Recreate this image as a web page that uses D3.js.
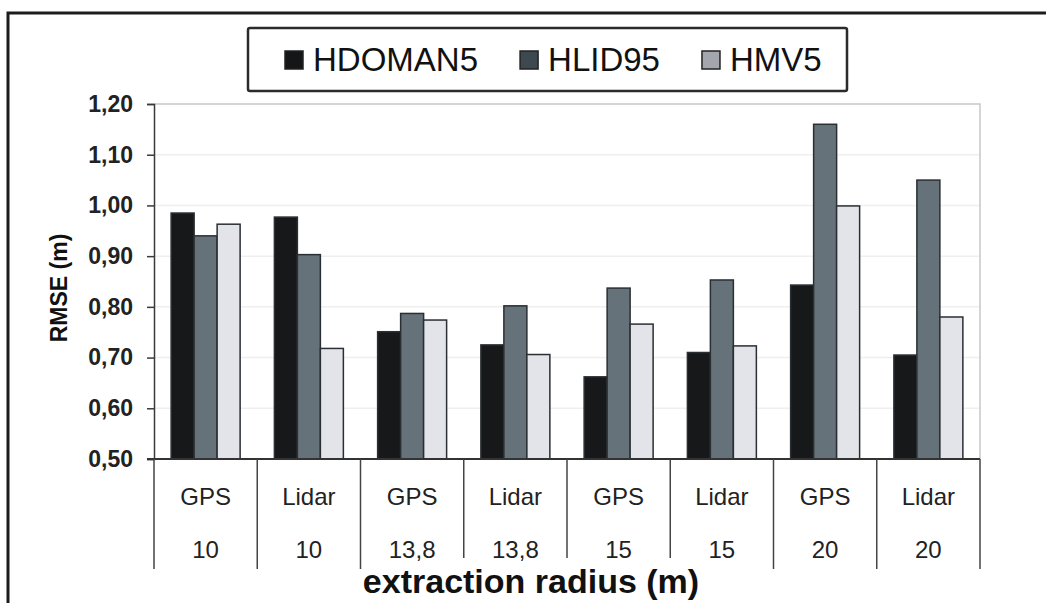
<!DOCTYPE html>
<html lang="en">
<head>
    <meta charset="UTF-8">
    <title>RMSE by extraction radius</title>
    <script src="https://d3js.org/d3.v7.min.js"></script>
    <style>
        body {
            margin: 0;
            background: #fff;
            font-family: "Liberation Sans", Arial, sans-serif;
        }
        .axis-y text {
            font-size: 23px;
            font-weight: bold;
            fill: #222;
        }
        .cat {
            font-size: 24px;
            fill: #222;
        }
        .title {
            font-weight: bold;
            fill: #111;
        }
        .legend-text {
            font-size: 33px;
            fill: #111;
        }
    </style>
</head>
<body>
    <svg width="1046" height="603"></svg>
    <script>
        // values
        var methods = ["GPS", "Lidar", "GPS", "Lidar", "GPS", "Lidar", "GPS", "Lidar"];
        var radii = ["10", "10", "13,8", "13,8", "15", "15", "20", "20"];
        var seriesNames = ["HDOMAN5", "HLID95", "HMV5"];
        var hdoman5 = [0.985, 0.977, 0.751, 0.725, 0.662, 0.710, 0.843, 0.705];
        var hlid95 = [0.940, 0.903, 0.787, 0.802, 0.837, 0.853, 1.160, 1.050];
        var hmv5 = [0.963, 0.718, 0.774, 0.706, 0.766, 0.723, 0.999, 0.780];
        var yTicks = [0.5, 0.6, 0.7, 0.8, 0.9, 1.0, 1.1, 1.2];

        var seriesValues = [hdoman5, hlid95, hmv5];
        var barColors = ["#17181a", "#66727a", "#e2e4e9"];
        var swatchColors = ["#151617", "#3e494f", "#a3a7ad"];

        // plot area (window.top is reserved, so prefix the names)
        var plotL = 154, plotR = 980, plotT = 104, plotB = 459;

        var svg = d3.select("svg");

        // outer frame
        svg.append("rect")
            .attr("x", 8).attr("y", 13)
            .attr("width", 1200).attr("height", 800)
            .attr("fill", "none")
            .attr("stroke", "#1c1c1c")
            .attr("stroke-width", 3);

        var x0 = d3.scaleBand().domain(d3.range(methods.length)).range([plotL, plotR]);
        var x1 = d3.scaleBand().domain(seriesNames).range([0, x0.bandwidth()]).paddingOuter(0.745);
        var y = d3.scaleLinear().domain([0.5, 1.2]).range([plotB, plotT]);

        var locale = d3.formatLocale({decimal: ",", thousands: ".", grouping: [3], currency: ["", ""]});
        var fmt = locale.format(".2f");

        // grid lines
        svg.append("g")
            .selectAll("line")
            .data(yTicks.slice(1, -1))
            .enter().append("line")
            .attr("x1", plotL).attr("x2", plotR)
            .attr("y1", function(d) { return y(d); })
            .attr("y2", function(d) { return y(d); })
            .attr("stroke", "#efefef")
            .attr("stroke-width", 1.5);

        // plot border top / right
        svg.append("path")
            .attr("d", "M" + plotL + "," + plotT + "H" + plotR + "V" + plotB)
            .attr("fill", "none")
            .attr("stroke", "#c5c9cd")
            .attr("stroke-width", 1.5);

        // bars
        var groups = svg.append("g")
            .selectAll("g")
            .data(d3.range(methods.length))
            .enter().append("g")
            .attr("transform", function(i) { return "translate(" + x0(i) + ",0)"; });

        groups.selectAll("rect")
            .data(function(i) {
                return seriesNames.map(function(s, k) { return {s: s, k: k, v: seriesValues[k][i]}; });
            })
            .enter().append("rect")
            .attr("x", function(d) { return x1(d.s); })
            .attr("width", x1.bandwidth())
            .attr("y", function(d) { return y(d.v); })
            .attr("height", function(d) { return y(0.5) - y(d.v); })
            .attr("fill", function(d) { return barColors[d.k]; })
            .attr("stroke", "#2a2f33")
            .attr("stroke-width", 1.5);

        // y axis
        var yAxis = svg.append("g")
            .attr("class", "axis-y")
            .attr("transform", "translate(" + plotL + ",0)")
            .call(d3.axisLeft(y).tickValues(yTicks).tickFormat(fmt).tickSize(7).tickPadding(14));
        yAxis.select(".domain").attr("stroke", "#3a3a3a").attr("stroke-width", 1.5);
        yAxis.selectAll(".tick line").attr("stroke", "#3a3a3a").attr("stroke-width", 1.5);

        // baseline
        svg.append("line")
            .attr("x1", plotL - 7).attr("x2", plotR)
            .attr("y1", plotB).attr("y2", plotB)
            .attr("stroke", "#333")
            .attr("stroke-width", 2);

        // x title first so dividers under it can stop short
        var xTitle = svg.append("text")
            .attr("class", "title")
            .attr("x", 531)
            .attr("y", 593)
            .attr("text-anchor", "middle")
            .style("font-size", "34px")
            .text("extraction radius (m)");
        var tb = xTitle.node().getBBox();

        // category dividers
        var edges = d3.range(methods.length + 1).map(function(i) {
            return i < methods.length ? x0(i) : x0(i - 1) + x0.bandwidth();
        });
        svg.append("g")
            .selectAll("line")
            .data(edges)
            .enter().append("line")
            .attr("x1", function(d) { return d; })
            .attr("x2", function(d) { return d; })
            .attr("y1", plotB)
            .attr("y2", function(d) { return (d > tb.x && d < tb.x + tb.width) ? 558 : 569; })
            .attr("stroke", "#444")
            .attr("stroke-width", 1.5);

        // category labels
        svg.append("g")
            .selectAll("text")
            .data(methods)
            .enter().append("text")
            .attr("class", "cat")
            .attr("x", function(d, i) { return x0(i) + x0.bandwidth() / 2; })
            .attr("y", 505)
            .attr("text-anchor", "middle")
            .text(function(d) { return d; });

        svg.append("g")
            .selectAll("text")
            .data(radii)
            .enter().append("text")
            .attr("class", "cat")
            .attr("x", function(d, i) { return x0(i) + x0.bandwidth() / 2; })
            .attr("y", 558)
            .attr("text-anchor", "middle")
            .text(function(d) { return d; });

        // y title
        svg.append("text")
            .attr("class", "title")
            .attr("transform", "translate(67,288) rotate(-90)")
            .attr("text-anchor", "middle")
            .style("font-size", "23px")
            .text("RMSE (m)");

        // legend
        var legend = svg.append("g");
        legend.append("rect")
            .attr("x", 248).attr("y", 28)
            .attr("width", 599).attr("height", 63)
            .attr("rx", 2)
            .attr("fill", "#fff")
            .attr("stroke", "#2b2b2b")
            .attr("stroke-width", 2.5);

        var lx = 285;
        seriesNames.forEach(function(name, k) {
            legend.append("rect")
                .attr("x", lx).attr("y", 51)
                .attr("width", 18).attr("height", 18)
                .attr("fill", swatchColors[k])
                .attr("stroke", "#222")
                .attr("stroke-width", 1.5);
            var t = legend.append("text")
                .attr("class", "legend-text")
                .attr("x", lx + 28)
                .attr("y", 71)
                .attr("textLength", k === 0 ? 165 : null)
                .text(name);
            lx = lx + 28 + t.node().getComputedTextLength() + 42;
        });
    </script>
</body>
</html>
